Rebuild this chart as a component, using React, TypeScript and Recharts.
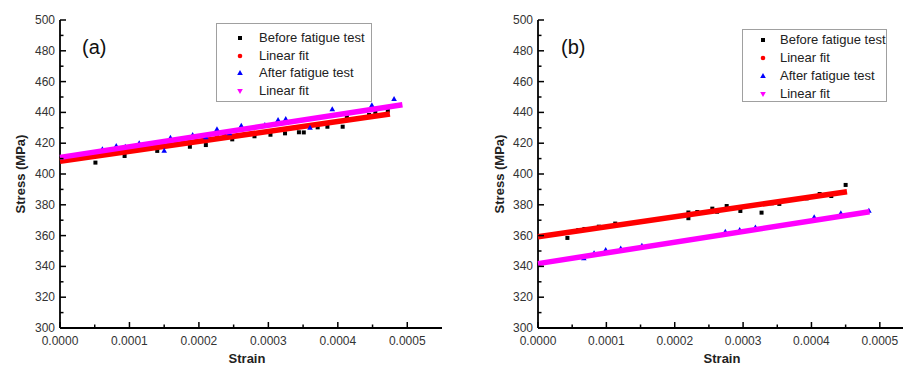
import React from 'react';
import { ComposedChart, Scatter, XAxis, YAxis, Legend } from 'recharts';

// ---------- data (strain in units of 1e-4, stress in MPa) ----------
const strainBeforeA = [0.51, 0.93, 1.4, 1.87, 2.1, 2.26, 2.37, 2.48, 2.8, 3.03, 3.24, 3.44, 3.51, 3.71, 3.85, 4.07, 4.13, 4.45, 4.54, 4.72];
const stressBeforeA = [407.4, 411.7, 415, 417.7, 418.8, 423.8, 425, 422.5, 424.5, 425.5, 426.4, 427.1, 427, 430.3, 430.7, 430.7, 437.2, 438.3, 440.3, 441.1];
const strainAfterA = [0.61, 0.81, 0.94, 1.14, 1.5, 1.59, 1.91, 2.1, 2.26, 2.44, 2.61, 2.95, 3.14, 3.25, 3.6, 3.92, 4.49, 4.81];
const stressAfterA = [416, 418.2, 417.7, 420, 415.1, 423.6, 425.3, 423.8, 429, 426.4, 431.4, 431.8, 435.1, 435.7, 430.1, 442, 444.6, 448.7];
const strainFitBeforeA = [0, 4.75];
const stressFitBeforeA = [408.3, 439];
const strainFitAfterA = [0, 4.93];
const stressFitAfterA = [410.8, 445];

const strainBeforeB = [0.43, 0.59, 0.68, 0.89, 1.13, 2.2, 2.2, 2.33, 2.55, 2.62, 2.76, 2.96, 3.27, 3.42, 3.53, 3.93, 4.12, 4.29, 4.5];
const stressBeforeB = [358.5, 363.6, 364.3, 365.8, 367.8, 375, 371.3, 375.3, 377.5, 375.5, 379.2, 376, 374.9, 381, 380.6, 384.2, 387, 385.7, 392.9];
const strainAfterB = [0.67, 0.82, 0.99, 1.21, 1.52, 2.74, 2.95, 3.18, 4.04, 4.43, 4.84];
const stressAfterB = [345.3, 348.5, 350.6, 351.7, 353.4, 362.5, 363.6, 365.3, 371.9, 374.5, 376.2];
const strainFitBeforeB = [0, 4.52];
const stressFitBeforeB = [359.2, 388.5];
const strainFitAfterB = [0, 4.85];
const stressFitAfterB = [341.8, 375.5];

const xTicks = [0, 0.00005, 0.0001, 0.00015, 0.0002, 0.00025, 0.0003, 0.00035, 0.0004, 0.00045, 0.0005];
const yTicks = [300, 310, 320, 330, 340, 350, 360, 370, 380, 390, 400, 410, 420, 430, 440, 450, 460, 470, 480, 490, 500];
const legendLabels = ['Before fatigue test', 'Linear fit', 'After fatigue test', 'Linear fit'];
const legendColors = ['#000000', '#ff0000', '#0000ff', '#ff00ff'];
const legendShapes = ['square', 'circle', 'triangle', 'triangleDown'];

const zip = (xs: number[], ys: number[]) => xs.map((v, i) => ({ x: v * 1e-4, y: ys[i] }));

const FONT = '"Liberation Sans", Arial, sans-serif';

const XTick = (props: any) => {
  const { x, y, payload } = props;
  const v = payload.value * 1e4;
  const major = Math.abs(v - Math.round(v)) < 1e-6;
  return (
    <g>
      <line x1={x} x2={x} y1={y} y2={y - (major ? 6 : 3.5)} stroke="#000" strokeWidth={1.5} />
      {major && (
        <text x={x} y={y + 17} textAnchor="middle" fontSize={12} fill="#333" fontFamily={FONT}>
          {payload.value.toFixed(4)}
        </text>
      )}
    </g>
  );
};

const YTick = (props: any) => {
  const { x, y, payload } = props;
  const major = payload.value % 20 === 0;
  return (
    <g>
      <line x1={x} x2={x + (major ? 6 : 3.5)} y1={y} y2={y} stroke="#000" strokeWidth={1.5} />
      {major && (
        <text x={x - 5} y={y + 4} textAnchor="end" fontSize={12} fill="#333" fontFamily={FONT}>
          {payload.value}
        </text>
      )}
    </g>
  );
};

const Square = (p: any) => <rect x={p.cx - 2} y={p.cy - 2} width={4} height={4} fill="#000" />;
const Tri = (p: any) => (
  <polygon points={`${p.cx},${p.cy - 3} ${p.cx - 2.8},${p.cy + 2} ${p.cx + 2.8},${p.cy + 2}`} fill="#0000ff" />
);
const Nothing = () => <g />;

const Marker = ({ shape, color }: { shape: string; color: string }) => (
  <svg width={8} height={8} style={{ display: 'block' }}>
    {shape === 'square' && <rect x={2} y={2} width={4} height={4} fill={color} />}
    {shape === 'circle' && <circle cx={4} cy={4} r={2.3} fill={color} />}
    {shape === 'triangle' && <polygon points="4,1 1.2,6 6.8,6" fill={color} />}
    {shape === 'triangleDown' && <polygon points="4,7 1.2,2 6.8,2" fill={color} />}
  </svg>
);

const makeLegend = (markerX: number, textX: number, padTop: number, rowH: number) => () => (
  <div
    style={{
      border: '1.5px solid #a0a0a0',
      width: '100%',
      height: '100%',
      boxSizing: 'border-box',
      background: '#fff',
      paddingTop: padTop,
      fontFamily: FONT,
      fontSize: 13,
      color: '#222',
    }}
  >
    {legendLabels.map((l, i) => (
      <div key={i} style={{ position: 'relative', height: rowH, lineHeight: `${rowH}px` }}>
        <div style={{ position: 'absolute', left: markerX - 4, top: rowH / 2 - 4 }}>
          <Marker shape={legendShapes[i]} color={legendColors[i]} />
        </div>
        <span style={{ position: 'absolute', left: textX, whiteSpace: 'nowrap' }}>{l}</span>
      </div>
    ))}
  </div>
);

type PanelProps = {
  left: number;
  width: number;
  yAxisWidth: number;
  marginRight: number;
  labelDx: number;
  before: { x: number; y: number }[];
  after: { x: number; y: number }[];
  fitBefore: { x: number; y: number }[];
  fitAfter: { x: number; y: number }[];
  tag: string;
  tagX: number;
  legendBox: { left: number; top: number; width: number; height: number };
  legendContent: () => React.ReactElement;
};

const Panel = (p: PanelProps) => (
  <div style={{ position: 'absolute', left: p.left, top: 0, width: p.width, height: 372 }}>
    <ComposedChart width={p.width} height={372} margin={{ top: 20, right: p.marginRight, bottom: 0, left: 0 }}>
      <XAxis
        dataKey="x"
        type="number"
        domain={[0, 0.00055]}
        ticks={xTicks}
        interval={0}
        tick={<XTick />}
        tickLine={false}
        tickSize={0}
        tickMargin={0}
        height={44}
        axisLine={{ stroke: '#000', strokeWidth: 1.8 }}
        label={{ value: 'Strain', position: 'insideBottom', offset: 9, dx: -4, style: { fontFamily: FONT, fontSize: 13, fill: '#222', fontWeight: 'bold' } }}
      />
      <XAxis xAxisId="top" orientation="top" type="number" domain={[0, 0.00055]} height={0} tick={false} tickLine={false} axisLine={{ stroke: '#000', strokeWidth: 1.8 }} />
      <YAxis
        dataKey="y"
        type="number"
        domain={[300, 500]}
        ticks={yTicks}
        interval={0}
        tick={<YTick />}
        tickLine={false}
        tickSize={0}
        tickMargin={0}
        width={p.yAxisWidth}
        axisLine={{ stroke: '#000', strokeWidth: 1.8 }}
        label={{ value: 'Stress (MPa)', angle: -90, position: 'center', dx: p.labelDx, style: { fontFamily: FONT, fontSize: 13, fill: '#222', fontWeight: 'bold' } }}
      />
      <YAxis yAxisId="right" orientation="right" type="number" domain={[300, 500]} width={0} tick={false} tickLine={false} axisLine={{ stroke: '#000', strokeWidth: 1.8 }} />
      <Scatter data={p.before} shape={Square} isAnimationActive={false} />
      <Scatter data={p.fitBefore} shape={Nothing} line={{ stroke: '#ff0000', strokeWidth: 5.5 }} isAnimationActive={false} />
      <Scatter data={p.after} shape={Tri} isAnimationActive={false} />
      <Scatter data={p.fitAfter} shape={Nothing} line={{ stroke: '#ff00ff', strokeWidth: 5.5 }} isAnimationActive={false} />
      <Legend
        layout="vertical"
        align="center"
        verticalAlign="middle"
        content={p.legendContent}
        wrapperStyle={{ left: p.legendBox.left, top: p.legendBox.top, width: p.legendBox.width, height: p.legendBox.height }}
      />
    </ComposedChart>
    <div
      style={{
        position: 'absolute',
        left: p.tagX,
        top: 35,
        fontFamily: FONT,
        fontSize: 20,
        color: '#111',
        lineHeight: '24px',
      }}
    >
      {p.tag}
    </div>
  </div>
);

export default function App() {
  return (
    <div style={{ position: 'absolute', left: 0, top: 0, width: 903, height: 372, overflow: 'hidden', background: '#fff' }}>
      <Panel
        left={0}
        width={460}
        yAxisWidth={60}
        marginRight={18}
        labelDx={-10}
        before={zip(strainBeforeA, stressBeforeA)}
        after={zip(strainAfterA, stressAfterA)}
        fitBefore={zip(strainFitBeforeA, stressFitBeforeA)}
        fitAfter={zip(strainFitAfterA, stressFitAfterA)}
        tag="(a)"
        tagX={82}
        legendBox={{ left: 216, top: 23, width: 156, height: 79 }}
        legendContent={makeLegend(23, 42, 5, 17.7)}
      />
      <Panel
        left={460}
        width={470}
        yAxisWidth={78}
        marginRight={16}
        labelDx={0}
        before={zip(strainBeforeB, stressBeforeB)}
        after={zip(strainAfterB, stressAfterB)}
        fitBefore={zip(strainFitBeforeB, stressFitBeforeB)}
        fitAfter={zip(strainFitAfterB, stressFitAfterB)}
        tag="(b)"
        tagX={101}
        legendBox={{ left: 282, top: 29, width: 145, height: 73 }}
        legendContent={makeLegend(20, 37, 1, 18)}
      />
    </div>
  );
}
